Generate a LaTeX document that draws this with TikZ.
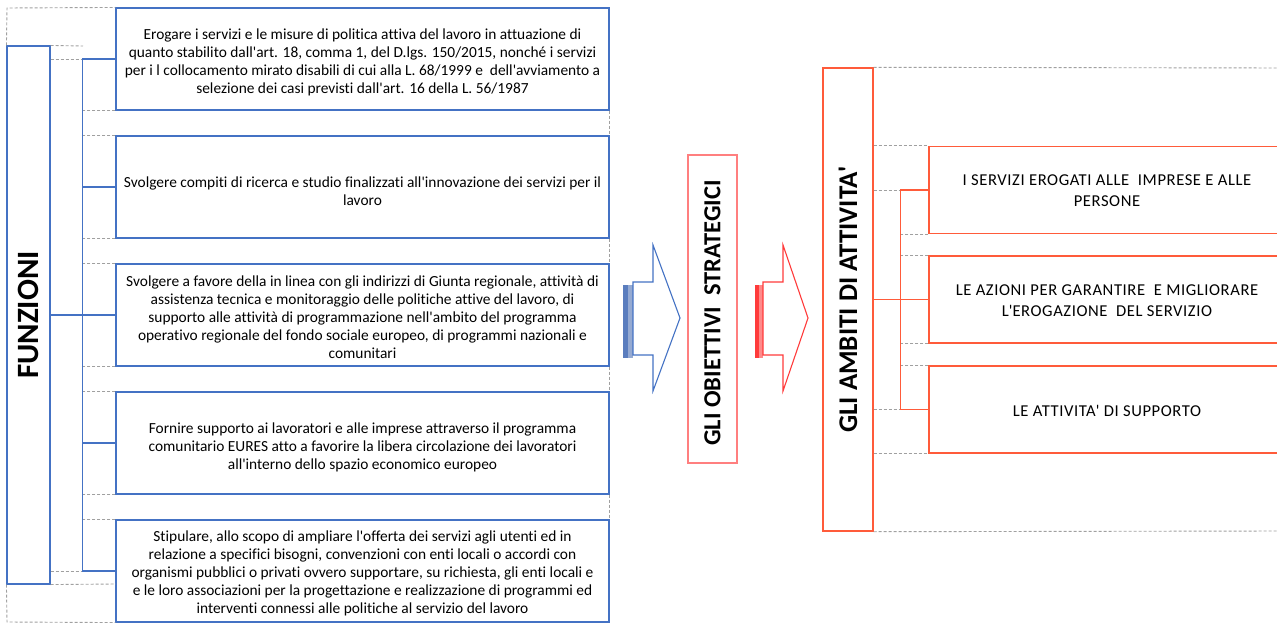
\documentclass[tikz,border=0pt]{standalone}
\usepackage{fontspec}
\setmainfont{Carlito}[Ligatures=NoCommon]
\newcommand\aq{\textquotesingle}
\definecolor{obl}{HTML}{4472C4}
\definecolor{dgr}{HTML}{A0A0A0}
\definecolor{rd}{HTML}{FF5B3A}
\definecolor{prd}{HTML}{FF7F7F}
\definecolor{barblue}{HTML}{95AAD2}
\definecolor{barbluedk}{HTML}{5A7DBE}
\definecolor{barred}{HTML}{FF8A8A}
\definecolor{barreddk}{HTML}{FF3B3B}
\begin{document}
\begin{tikzpicture}[x=1pt,y=-1pt,
  fbox/.style={draw=obl,line width=1.1pt,minimum width=493pt,minimum height=102pt,inner sep=0pt},
  ftxt/.style={inner sep=0pt,align=center,font=\fontsize{15.4}{18}\selectfont},
  abox/.style={draw=rd,line width=1.4pt,minimum width=356pt,minimum height=87pt,inner sep=0pt},
  atxt/.style={inner sep=0pt,align=center,font=\fontsize{16.6}{21}\selectfont\addfontfeatures{LetterSpace=3.5}},
  bline/.style={draw=obl,line width=1.1pt},
  rline/.style={draw=rd,line width=1.4pt},
  dline/.style={draw=dgr,line width=0.9pt,dash pattern=on 3pt off 2pt}]
\useasboundingbox (0,0) rectangle (1277,623);
\fill[white] (0,0) rectangle (1277,623);

% ---------- left structure ----------
\node[draw=obl,line width=1.1pt,minimum width=43pt,minimum height=538pt,inner sep=0pt] (fun) at (28.5,315) {};
\node[rotate=90,font=\fontsize{31}{34}\selectfont\bfseries] at (fun.center) {FUNZIONI};

\node[fbox] (b1) at (362.5,59) {};
\node[fbox] (b2) at (362.5,187) {};
\node[fbox] (b3) at (362.5,315) {};
\node[fbox] (b4) at (362.5,443) {};
\node[fbox] (b5) at (362.5,571) {};
\node[ftxt] at ([yshift=-3pt]b1.center) {Erogare i servizi e  le misure di politica attiva del lavoro in attuazione di\\quanto stabilito dall\aq art. 18, comma 1, del D.lgs. 150/2015, nonché i servizi\\per i l collocamento mirato disabili di cui alla L. 68/1999 e \ dell\aq avviamento a\\selezione dei casi previsti dall\aq art. 16 della L. 56/1987};
\node[ftxt] at ([yshift=-4pt]b2.center) {Svolgere compiti di ricerca e studio finalizzati all\aq innovazione dei servizi per il\\lavoro};
\node[ftxt] at ([yshift=-2pt]b3.center) {Svolgere a favore della in linea con gli indirizzi di Giunta regionale, attività di\\assistenza tecnica e monitoraggio delle politiche attive del lavoro, di\\supporto alle attività di programmazione nell\aq ambito del programma\\operativo regionale del fondo sociale europeo, di programmi nazionali e\\comunitari};
\node[ftxt] at ([yshift=-4pt]b4.center) {Fornire supporto ai lavoratori e alle imprese attraverso il programma\\comunitario EURES atto a favorire la libera circolazione dei lavoratori\\all\aq interno dello spazio economico europeo};
\node[ftxt] at ([yshift=-2pt]b5.center) {Stipulare, allo scopo di ampliare l\aq offerta dei servizi agli utenti ed in\\relazione a specifici bisogni, convenzioni con enti locali o accordi con\\organismi pubblici o privati ovvero supportare, su richiesta, gli enti locali e\\e le loro associazioni per la progettazione e realizzazione di programmi ed\\interventi connessi alle politiche al servizio del lavoro};

% dashed guide lines (left)
\draw[dline] (fun.north west) -- (7,8) -- (b1.north west);
\draw[dline] (fun.south west) -- (7,622) -- (b5.south west);
\draw[dline] (fun.north east) -- (83,46);
\draw[dline] (fun.east |- b1.west) -- (83,59);
\draw[dline] (fun.east |- b5.west) -- (83,571);
\draw[dline] (fun.south east) -- (116,584);
\foreach \b in {b1,b2,b3,b4}{\draw[dline] (\b.south west) -- ++(-33,0);}
\foreach \b in {b2,b3,b4,b5}{\draw[dline] (\b.north west) -- ++(-33,0);}
\draw[dline] (b1.south east) -- (b2.north east);
\draw[dline] (b2.south east) -- (b3.north east);
\draw[dline] (b3.south east) -- (b4.north east);
\draw[dline] (b4.south east) -- (b5.north east);

% connectors (left)
\draw[bline] (b1.west) -- ++(-33,0) |- (b5.west);
\draw[bline] (fun.east) -- (b3.west);
\draw[bline] (b2.west) -- ++(-33,0);
\draw[bline] (b4.west) -- ++(-33,0);

% ---------- middle ----------
\fill[barblue] (623,285) rectangle (633,358);
\fill[barbluedk] (623,285) rectangle (628,358);
\draw[obl,line width=1.1pt,line join=miter] (633,282) -- (653,282) -- (653,245) -- (680,318) -- (653,391) -- (653,355) -- (633,355) -- cycle;

\node[draw=prd,line width=2pt,minimum width=49pt,minimum height=308pt,inner sep=0pt] (obj) at (712.5,309) {};
\node[rotate=90,font=\fontsize{24.5}{27}\selectfont\bfseries] at ([yshift=-4pt]obj.center) {GLI OBIETTIVI \ STRATEGICI};

\fill[barred] (755,285) rectangle (763,358);
\fill[barreddk] (755,285) rectangle (759,358);
\draw[barreddk,line width=1.1pt,line join=miter] (763,282) -- (783,282) -- (783,245) -- (808,318) -- (783,391) -- (783,355) -- (763,355) -- cycle;

% ---------- right structure ----------
\node[draw=rd,line width=1.4pt,minimum width=50pt,minimum height=463pt,inner sep=0pt] (amb) at (848,299.5) {};
\node[rotate=90,font=\fontsize{27}{30}\selectfont\bfseries] at (amb.center) {GLI AMBITI DI ATTIVITA\aq};

\node[abox] (r1) at (1107,190) {};
\node[abox] (r2) at (1107,299.5) {};
\node[abox] (r3) at (1107,409.5) {};
\node[atxt] at ([yshift=-1pt]r1.center) {I SERVIZI EROGATI ALLE \ IMPRESE E ALLE\\PERSONE};
\node[atxt] at ([yshift=-1pt]r2.center) {LE AZIONI PER GARANTIRE \ E MIGLIORARE\\L\aq EROGAZIONE \ DEL SERVIZIO};
\node[atxt] at ([yshift=-1pt]r3.center) {LE ATTIVITA\aq \ DI SUPPORTO};

% dashed guide lines (right)
\draw[dline] (amb.north east) -- (1285,68);
\draw[dline] (amb.south east) -- (1285,531);
\draw[dline] (amb.east |- r1.north west) -- (r1.north west);
\draw[dline] (amb.east |- r1.west) -- (901,190);
\draw[dline] (r1.south west) -- ++(-28,0);
\draw[dline] (r2.north west) -- ++(-28,0);
\draw[dline] (r2.south west) -- ++(-28,0);
\draw[dline] (r3.north west) -- ++(-28,0);
\draw[dline] (amb.east |- r3.west) -- (901,409.5);
\draw[dline] (amb.east |- r3.south west) -- (r3.south west);

% connectors (right)
\draw[rline] (r1.west) -- ++(-28,0) |- (r3.west);
\draw[rline] (amb.east) -- (r2.west);
\end{tikzpicture}
\end{document}
